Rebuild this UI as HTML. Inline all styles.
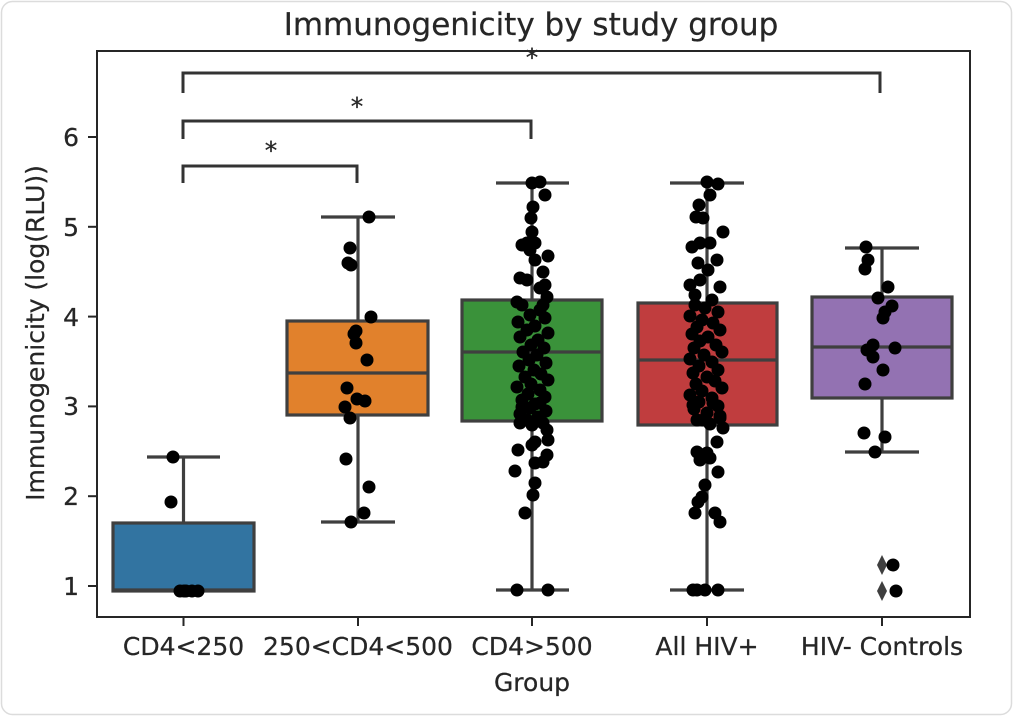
<!DOCTYPE html>
<html>
<head>
<meta charset="utf-8">
<style>
html,body{margin:0;padding:0;background:#fff;}
svg{display:block;}
text{font-family:"DejaVu Sans","Liberation Sans",sans-serif;fill:#262626;stroke:#262626;stroke-width:0.25px;}
</style>
</head>
<body>
<svg width="1014" height="717" viewBox="0 0 1014 717" xmlns="http://www.w3.org/2000/svg">
<rect x="0" y="0" width="1014" height="717" fill="#fff"/>
<rect x="1.5" y="1.5" width="1010" height="713" rx="11" ry="11" fill="none" stroke="#dcdcdc" stroke-width="1.5"/>

<!-- title -->
<text x="531" y="35" font-size="31" text-anchor="middle">Immunogenicity by study group</text>

<!-- boxes -->
<g stroke="#3f3f3f" stroke-width="3.2" fill="none">
  <!-- blue -->
  <line x1="183.5" y1="523" x2="183.5" y2="457"/>
  <line x1="147" y1="457" x2="220" y2="457"/>
  <rect x="113" y="523" width="141" height="68" fill="#3274a1"/>
  <line x1="113" y1="590" x2="254" y2="590"/>
  <!-- orange -->
  <line x1="358" y1="321" x2="358" y2="217"/>
  <line x1="358" y1="415" x2="358" y2="522"/>
  <line x1="321" y1="217" x2="395" y2="217"/>
  <line x1="321" y1="522" x2="395" y2="522"/>
  <rect x="287" y="321" width="141" height="94" fill="#e1812c"/>
  <line x1="287" y1="373" x2="428" y2="373"/>
  <!-- green -->
  <line x1="532" y1="300" x2="532" y2="183"/>
  <line x1="532" y1="421" x2="532" y2="590"/>
  <line x1="496" y1="183" x2="569" y2="183"/>
  <line x1="496" y1="590" x2="569" y2="590"/>
  <rect x="462" y="300" width="140" height="121" fill="#3a923a"/>
  <line x1="462" y1="352" x2="602" y2="352"/>
  <!-- red -->
  <line x1="707" y1="303" x2="707" y2="183"/>
  <line x1="707" y1="425" x2="707" y2="590"/>
  <line x1="670" y1="183" x2="744" y2="183"/>
  <line x1="670" y1="590" x2="744" y2="590"/>
  <rect x="638" y="303" width="139" height="122" fill="#c03d3e"/>
  <line x1="638" y1="360" x2="777" y2="360"/>
  <!-- purple -->
  <line x1="882" y1="297" x2="882" y2="248"/>
  <line x1="882" y1="398" x2="882" y2="452"/>
  <line x1="845" y1="248" x2="919" y2="248"/>
  <line x1="845" y1="452" x2="919" y2="452"/>
  <rect x="812" y="297" width="140" height="101" fill="#9372b2"/>
  <line x1="812" y1="347" x2="952" y2="347"/>
</g>
<!-- fliers -->
<g fill="#3f3f3f">
  <polygon points="882,555 887,565 882,575 877,565"/>
  <polygon points="882,581 887,591 882,601 877,591"/>
</g>

<!-- points -->
<g fill="#000">
  <!-- blue -->
  <circle cx="173" cy="457" r="6.5"/><circle cx="171" cy="502" r="6.5"/>
  <circle cx="180" cy="591" r="6.5"/><circle cx="186" cy="591" r="6.5"/><circle cx="192" cy="591" r="6.5"/><circle cx="198" cy="591" r="6.5"/><circle cx="184" cy="591" r="6.5"/>
  <!-- orange -->
  <circle cx="369" cy="217" r="6.5"/><circle cx="350" cy="248" r="6.5"/><circle cx="348" cy="263" r="6.5"/><circle cx="351" cy="265" r="6.5"/>
  <circle cx="371" cy="317" r="6.5"/><circle cx="356" cy="331" r="6.5"/><circle cx="354" cy="334" r="6.5"/><circle cx="356" cy="343" r="6.5"/>
  <circle cx="367" cy="360" r="6.5"/><circle cx="347" cy="388" r="6.5"/><circle cx="357" cy="399" r="6.5"/><circle cx="365" cy="401" r="6.5"/>
  <circle cx="345" cy="407" r="6.5"/><circle cx="350" cy="418" r="6.5"/><circle cx="346" cy="459" r="6.5"/><circle cx="369" cy="487" r="6.5"/>
  <circle cx="364" cy="513" r="6.5"/><circle cx="351" cy="522" r="6.5"/>
  <!-- green -->
  <circle cx="532" cy="183" r="6.5"/><circle cx="540" cy="182" r="6.5"/><circle cx="545" cy="195" r="6.5"/><circle cx="533" cy="207" r="6.5"/>
  <circle cx="531" cy="218" r="6.5"/><circle cx="532" cy="232" r="6.5"/><circle cx="522" cy="245" r="6.5"/><circle cx="527" cy="243" r="6.5"/>
  <circle cx="535" cy="243" r="6.5"/><circle cx="530" cy="250" r="6.5"/><circle cx="548" cy="256" r="6.5"/><circle cx="535" cy="260" r="6.5"/>
  <circle cx="543" cy="272" r="6.5"/><circle cx="520" cy="278" r="6.5"/><circle cx="527" cy="280" r="6.5"/><circle cx="545" cy="285" r="6.5"/>
  <circle cx="540" cy="288" r="6.5"/><circle cx="547" cy="297" r="6.5"/><circle cx="517" cy="302" r="6.5"/><circle cx="543" cy="305" r="6.5"/>
  <circle cx="522" cy="305" r="6.5"/><circle cx="540" cy="310" r="6.5"/><circle cx="530" cy="315" r="6.5"/><circle cx="545" cy="318" r="6.5"/>
  <circle cx="518" cy="322" r="6.5"/><circle cx="535" cy="326" r="6.5"/><circle cx="527" cy="330" r="6.5"/><circle cx="548" cy="333" r="6.5"/>
  <circle cx="520" cy="337" r="6.5"/><circle cx="538" cy="340" r="6.5"/><circle cx="531" cy="345" r="6.5"/><circle cx="544" cy="348" r="6.5"/>
  <circle cx="523" cy="352" r="6.5"/><circle cx="537" cy="355" r="6.5"/><circle cx="529" cy="360" r="6.5"/><circle cx="546" cy="363" r="6.5"/>
  <circle cx="519" cy="366" r="6.5"/><circle cx="534" cy="370" r="6.5"/><circle cx="541" cy="374" r="6.5"/><circle cx="525" cy="377" r="6.5"/>
  <circle cx="548" cy="380" r="6.5"/><circle cx="531" cy="384" r="6.5"/><circle cx="517" cy="387" r="6.5"/><circle cx="540" cy="390" r="6.5"/>
  <circle cx="528" cy="394" r="6.5"/><circle cx="545" cy="397" r="6.5"/><circle cx="522" cy="400" r="6.5"/><circle cx="535" cy="404" r="6.5"/>
  <circle cx="530" cy="408" r="6.5"/><circle cx="546" cy="411" r="6.5"/><circle cx="520" cy="414" r="6.5"/><circle cx="538" cy="417" r="6.5"/>
  <circle cx="527" cy="420" r="6.5"/><circle cx="522" cy="407" r="6.5"/><circle cx="540" cy="403" r="6.5"/><circle cx="520" cy="423" r="6.5"/>
  <circle cx="532" cy="425" r="6.5"/><circle cx="543" cy="423" r="6.5"/><circle cx="547" cy="430" r="6.5"/><circle cx="535" cy="442" r="6.5"/>
  <circle cx="548" cy="440" r="6.5"/><circle cx="532" cy="445" r="6.5"/><circle cx="518" cy="450" r="6.5"/><circle cx="547" cy="455" r="6.5"/>
  <circle cx="543" cy="462" r="6.5"/><circle cx="535" cy="463" r="6.5"/><circle cx="515" cy="471" r="6.5"/><circle cx="535" cy="483" r="6.5"/>
  <circle cx="533" cy="495" r="6.5"/><circle cx="525" cy="513" r="6.5"/><circle cx="517" cy="590" r="6.5"/><circle cx="548" cy="590" r="6.5"/>
  <!-- red -->
  <circle cx="707" cy="182" r="6.5"/><circle cx="718" cy="184" r="6.5"/><circle cx="710" cy="195" r="6.5"/><circle cx="699" cy="205" r="6.5"/>
  <circle cx="696" cy="217" r="6.5"/><circle cx="703" cy="218" r="6.5"/><circle cx="723" cy="232" r="6.5"/><circle cx="692" cy="247" r="6.5"/>
  <circle cx="700" cy="243" r="6.5"/><circle cx="710" cy="243" r="6.5"/><circle cx="717" cy="260" r="6.5"/><circle cx="698" cy="263" r="6.5"/>
  <circle cx="708" cy="270" r="6.5"/><circle cx="690" cy="285" r="6.5"/><circle cx="700" cy="280" r="6.5"/><circle cx="720" cy="287" r="6.5"/>
  <circle cx="695" cy="295" r="6.5"/>
  <circle cx="712" cy="300" r="6.5"/><circle cx="695" cy="305" r="6.5"/><circle cx="705" cy="308" r="6.5"/><circle cx="718" cy="312" r="6.5"/>
  <circle cx="690" cy="316" r="6.5"/><circle cx="702" cy="320" r="6.5"/><circle cx="713" cy="323" r="6.5"/><circle cx="697" cy="327" r="6.5"/>
  <circle cx="720" cy="330" r="6.5"/><circle cx="692" cy="334" r="6.5"/><circle cx="708" cy="337" r="6.5"/><circle cx="700" cy="341" r="6.5"/>
  <circle cx="716" cy="345" r="6.5"/><circle cx="694" cy="348" r="6.5"/><circle cx="722" cy="352" r="6.5"/><circle cx="704" cy="355" r="6.5"/>
  <circle cx="690" cy="359" r="6.5"/><circle cx="712" cy="362" r="6.5"/><circle cx="699" cy="366" r="6.5"/><circle cx="718" cy="370" r="6.5"/>
  <circle cx="693" cy="373" r="6.5"/><circle cx="707" cy="377" r="6.5"/><circle cx="715" cy="381" r="6.5"/><circle cx="696" cy="384" r="6.5"/>
  <circle cx="722" cy="388" r="6.5"/><circle cx="702" cy="391" r="6.5"/><circle cx="690" cy="395" r="6.5"/><circle cx="712" cy="398" r="6.5"/>
  <circle cx="699" cy="402" r="6.5"/><circle cx="718" cy="406" r="6.5"/><circle cx="694" cy="409" r="6.5"/><circle cx="707" cy="413" r="6.5"/>
  <circle cx="720" cy="416" r="6.5"/><circle cx="697" cy="420" r="6.5"/><circle cx="710" cy="424" r="6.5"/>
  <circle cx="693" cy="405" r="6.5"/><circle cx="713" cy="403" r="6.5"/><circle cx="703" cy="420" r="6.5"/><circle cx="720" cy="418" r="6.5"/>
  <circle cx="723" cy="428" r="6.5"/><circle cx="717" cy="442" r="6.5"/><circle cx="697" cy="452" r="6.5"/><circle cx="707" cy="453" r="6.5"/>
  <circle cx="700" cy="460" r="6.5"/><circle cx="710" cy="458" r="6.5"/><circle cx="718" cy="472" r="6.5"/><circle cx="705" cy="485" r="6.5"/>
  <circle cx="702" cy="497" r="6.5"/><circle cx="698" cy="502" r="6.5"/><circle cx="695" cy="513" r="6.5"/><circle cx="715" cy="513" r="6.5"/>
  <circle cx="720" cy="522" r="6.5"/><circle cx="693" cy="590" r="6.5"/><circle cx="705" cy="590" r="6.5"/><circle cx="718" cy="590" r="6.5"/>
  <circle cx="697" cy="590" r="6.5"/>
  <!-- purple -->
  <circle cx="866" cy="247" r="6.5"/><circle cx="868" cy="260" r="6.5"/><circle cx="865" cy="269" r="6.5"/><circle cx="888" cy="287" r="6.5"/>
  <circle cx="878" cy="298" r="6.5"/><circle cx="892" cy="306" r="6.5"/><circle cx="885" cy="312" r="6.5"/><circle cx="883" cy="318" r="6.5"/>
  <circle cx="873" cy="345" r="6.5"/><circle cx="867" cy="350" r="6.5"/><circle cx="873" cy="357" r="6.5"/><circle cx="895" cy="348" r="6.5"/>
  <circle cx="883" cy="370" r="6.5"/><circle cx="865" cy="384" r="6.5"/><circle cx="864" cy="433" r="6.5"/><circle cx="885" cy="437" r="6.5"/>
  <circle cx="875" cy="452" r="6.5"/><circle cx="893" cy="565" r="6.5"/><circle cx="896" cy="591" r="6.5"/>
</g>

<!-- significance brackets -->
<g stroke="#333" stroke-width="3" fill="none">
  <polyline points="183,183 183,166 357,166 357,183"/>
  <polyline points="183,139 183,121 531,121 531,139"/>
  <polyline points="183,93 183,73 880,73 880,93"/>
</g>
<g font-size="25" text-anchor="middle">
  <text x="271" y="159">*</text>
  <text x="357" y="115">*</text>
  <text x="532" y="66">*</text>
</g>

<!-- axes -->
<rect x="97" y="51" width="873" height="566" fill="none" stroke="#262626" stroke-width="2"/>
<g stroke="#262626" stroke-width="2">
  <line x1="183.5" y1="617" x2="183.5" y2="626"/>
  <line x1="358" y1="617" x2="358" y2="626"/>
  <line x1="532" y1="617" x2="532" y2="626"/>
  <line x1="707" y1="617" x2="707" y2="626"/>
  <line x1="882" y1="617" x2="882" y2="626"/>
  <line x1="88" y1="586" x2="97" y2="586"/>
  <line x1="88" y1="496.2" x2="97" y2="496.2"/>
  <line x1="88" y1="406.4" x2="97" y2="406.4"/>
  <line x1="88" y1="316.6" x2="97" y2="316.6"/>
  <line x1="88" y1="226.8" x2="97" y2="226.8"/>
  <line x1="88" y1="137" x2="97" y2="137"/>
</g>
<g font-size="25" text-anchor="end">
  <text x="79" y="595">1</text>
  <text x="79" y="505">2</text>
  <text x="79" y="415">3</text>
  <text x="79" y="326">4</text>
  <text x="79" y="236">5</text>
  <text x="79" y="146">6</text>
</g>
<g font-size="25" text-anchor="middle">
  <text x="183.5" y="655">CD4&lt;250</text>
  <text x="358" y="655">250&lt;CD4&lt;500</text>
  <text x="532" y="655">CD4&gt;500</text>
  <text x="707" y="655">All HIV+</text>
  <text x="882" y="655">HIV- Controls</text>
  <text x="532" y="691">Group</text>
</g>
<text x="44" y="333" font-size="25" text-anchor="middle" transform="rotate(-90 44 333)">Immunogenicity (log(RLU))</text>
</svg>
</body>
</html>
